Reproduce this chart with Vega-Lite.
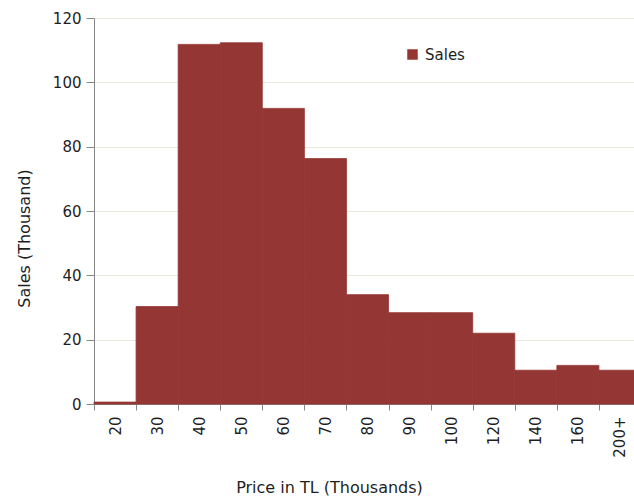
{
  "$schema": "https://vega.github.io/schema/vega-lite/v6.json",
  "autosize": "none",
  "width": 547,
  "height": 386,
  "padding": {"left": 94, "top": 18, "right": 0, "bottom": 97},
  "background": "white",
  "config": {
    "view": {"stroke": null},
    "font": "DejaVu Sans",
    "axis": {"labelColor": "#1e1e1e", "titleColor": "#1e1e1e", "labelFont": "DejaVu Sans", "titleFont": "DejaVu Sans", "titleFontWeight": "normal"}
  },
  "data": {
    "values": [
      {"price": "20", "sales": 0.6},
      {"price": "30", "sales": 30.3},
      {"price": "40", "sales": 111.8},
      {"price": "50", "sales": 112.3},
      {"price": "60", "sales": 91.9},
      {"price": "70", "sales": 76.3},
      {"price": "80", "sales": 34.0},
      {"price": "90", "sales": 28.4},
      {"price": "100", "sales": 28.4},
      {"price": "120", "sales": 22.0},
      {"price": "140", "sales": 10.5},
      {"price": "160", "sales": 12.0},
      {"price": "200+", "sales": 10.5}
    ]
  },
  "mark": {"type": "bar", "color": "#943634", "stroke": "#943634", "strokeWidth": 0.8, "clip": false},
  "encoding": {
    "x": {
      "field": "price",
      "type": "ordinal",
      "sort": null,
      "scale": {"paddingInner": 0, "paddingOuter": 0},
      "axis": {
        "title": "Price in TL (Thousands)",
        "titleFontSize": 16,
        "titleX": 235,
        "titleY": 88,
        "titleAlign": "center",
        "titleBaseline": "alphabetic",
        "labelAngle": -90,
        "labelFontSize": 15,
        "labelPadding": 6,
        "tickBand": "extent",
        "tickColor": "#868686",
        "tickSize": 6,
        "domainColor": "#868686",
        "grid": false
      }
    },
    "y": {
      "field": "sales",
      "type": "quantitative",
      "scale": {"domain": [0, 120], "nice": false},
      "axis": {
        "title": "Sales (Thousand)",
        "titleFontSize": 16,
        "titleX": -70,
        "titleY": 220,
        "titleAngle": -90,
        "titleAlign": "center",
        "titleBaseline": "middle",
        "values": [0, 20, 40, 60, 80, 100, 120],
        "labelFontSize": 15,
        "labelPadding": 5,
        "tickColor": "#868686",
        "tickSize": 8,
        "domainColor": "#868686",
        "gridColor": "#ede8dc",
        "gridWidth": 1
      }
    },
    "color": {
      "datum": "Sales",
      "type": "nominal",
      "scale": {"range": ["#943634"]},
      "legend": {
        "title": null,
        "orient": "none",
        "legendX": 311,
        "legendY": 29,
        "symbolType": "square",
        "symbolSize": 110,
        "symbolStrokeWidth": 0,
        "labelFontSize": 15,
        "labelColor": "#1e1e1e",
        "labelOffset": 5
      }
    }
  }
}
